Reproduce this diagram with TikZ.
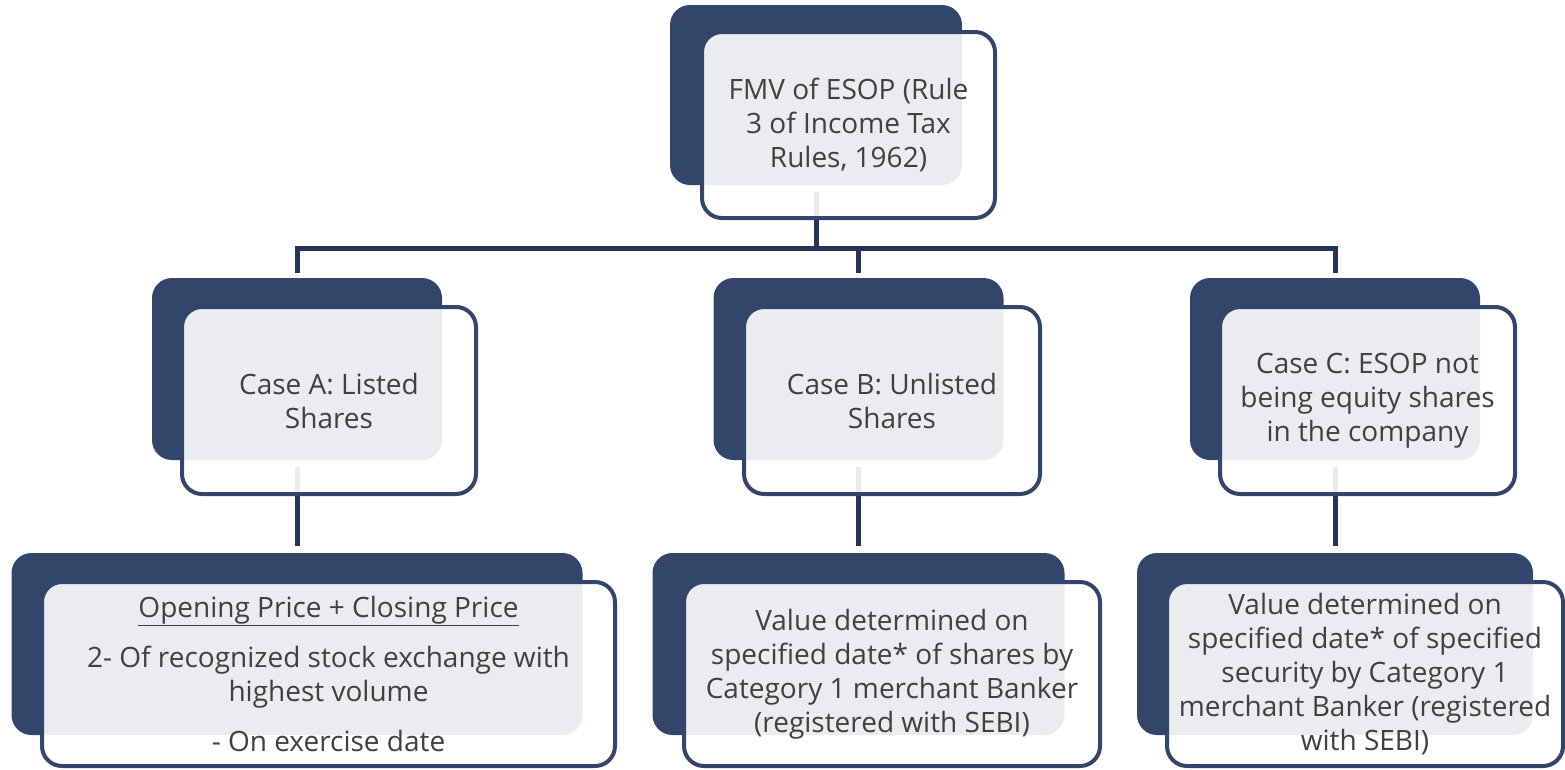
\documentclass[tikz,border=0pt]{standalone}
\usepackage{fontspec}
\setmainfont{Open Sans}
\usetikzlibrary{positioning}
\definecolor{esopnavy}{RGB}{52,69,107}
\definecolor{esopline}{RGB}{38,52,86}
\definecolor{esoptext}{RGB}{64,64,64}

\begin{document}
\begin{tikzpicture}[x=1pt, y=-1pt, % 1 Einheit = 1 Pixel, y nach unten
  back/.style={fill=esopnavy, rounded corners=20pt, inner sep=0pt},
  front/.style={draw=esopnavy, line width=4pt, fill=white, fill opacity=0.9, text opacity=1,
    text=esoptext, rounded corners=20pt, inner sep=0pt, align=center,
    font=\fontsize{28}{34}\selectfont},
  link/.style={draw=esopline, line width=5pt}]
\useasboundingbox (0,0) rectangle (1565,769);
% Hintergrund-Rechtecke
\node[back, minimum width=292pt, minimum height=180pt] (topb) at (816,95) {};
\node[back, minimum width=290pt, minimum height=182pt] (ab2) at (297,369) {};
\node[back, minimum width=290pt, minimum height=182pt] (bb2) at (858.5,369) {};
\node[back, minimum width=290pt, minimum height=182pt] (cb2) at (1335,369) {};
\node[back, minimum width=571pt, minimum height=182pt] (ab3) at (297,644) {};
\node[back, minimum width=412pt, minimum height=182pt] (bb3) at (858.5,644) {};
\node[back, minimum width=396pt, minimum height=182pt] (cb3) at (1335,644) {};
% Verbindungen
\coordinate (bus) at (816,248);
\draw[link, shorten <=7pt] (topb) -- (topb |- bus);
\draw[link, shorten <=5pt, shorten >=5pt] (ab2) -- (ab2 |- bus) -- (cb2 |- bus) -- (cb2);
\draw[link, shorten >=5pt] (bb2 |- bus) -- (bb2);
\foreach \k in {a,b,c} {
  \draw[link, shorten <=7pt, shorten >=7pt] (\k b2) -- (\k b3);
}
% Textfelder
\node[front, minimum width=293pt, minimum height=186pt] (topf) at (848.5,125)
  {FMV of ESOP (Rule\\ 3 of Income Tax\\ Rules, 1962)};
\node[front, minimum width=294pt, minimum height=187pt] (af2) at (329,400.5)
  {Case A: Listed\\ Shares};
\node[front, minimum width=296pt, minimum height=187pt] (bf2) at (892,400.5)
  {Case B: Unlisted\\ Shares};
\node[front, minimum width=295pt, minimum height=187pt] (cf2) at (1367.5,400.5)
  {Case C: ESOP not\\ being equity shares\\ in the company};
\node[front, minimum width=573pt, minimum height=184pt] (af3) at (328.5,674)
  {\underline{Opening Price + Closing Price}\\[16pt] 2- Of recognized stock exchange with\\ highest volume\\[16pt] - On exercise date};
\node[front, minimum width=416pt, minimum height=184pt] (bf3) at (892,674)
  {Value determined on\\ specified date* of shares by\\ Category 1 merchant Banker\\ (registered with SEBI)};
\node[front, minimum width=396pt, minimum height=184pt] (cf3) at (1365,674)
  {Value determined on\\ specified date* of specified\\ security by Category 1\\ merchant Banker (registered\\ with SEBI)};
\end{tikzpicture}
\end{document}
